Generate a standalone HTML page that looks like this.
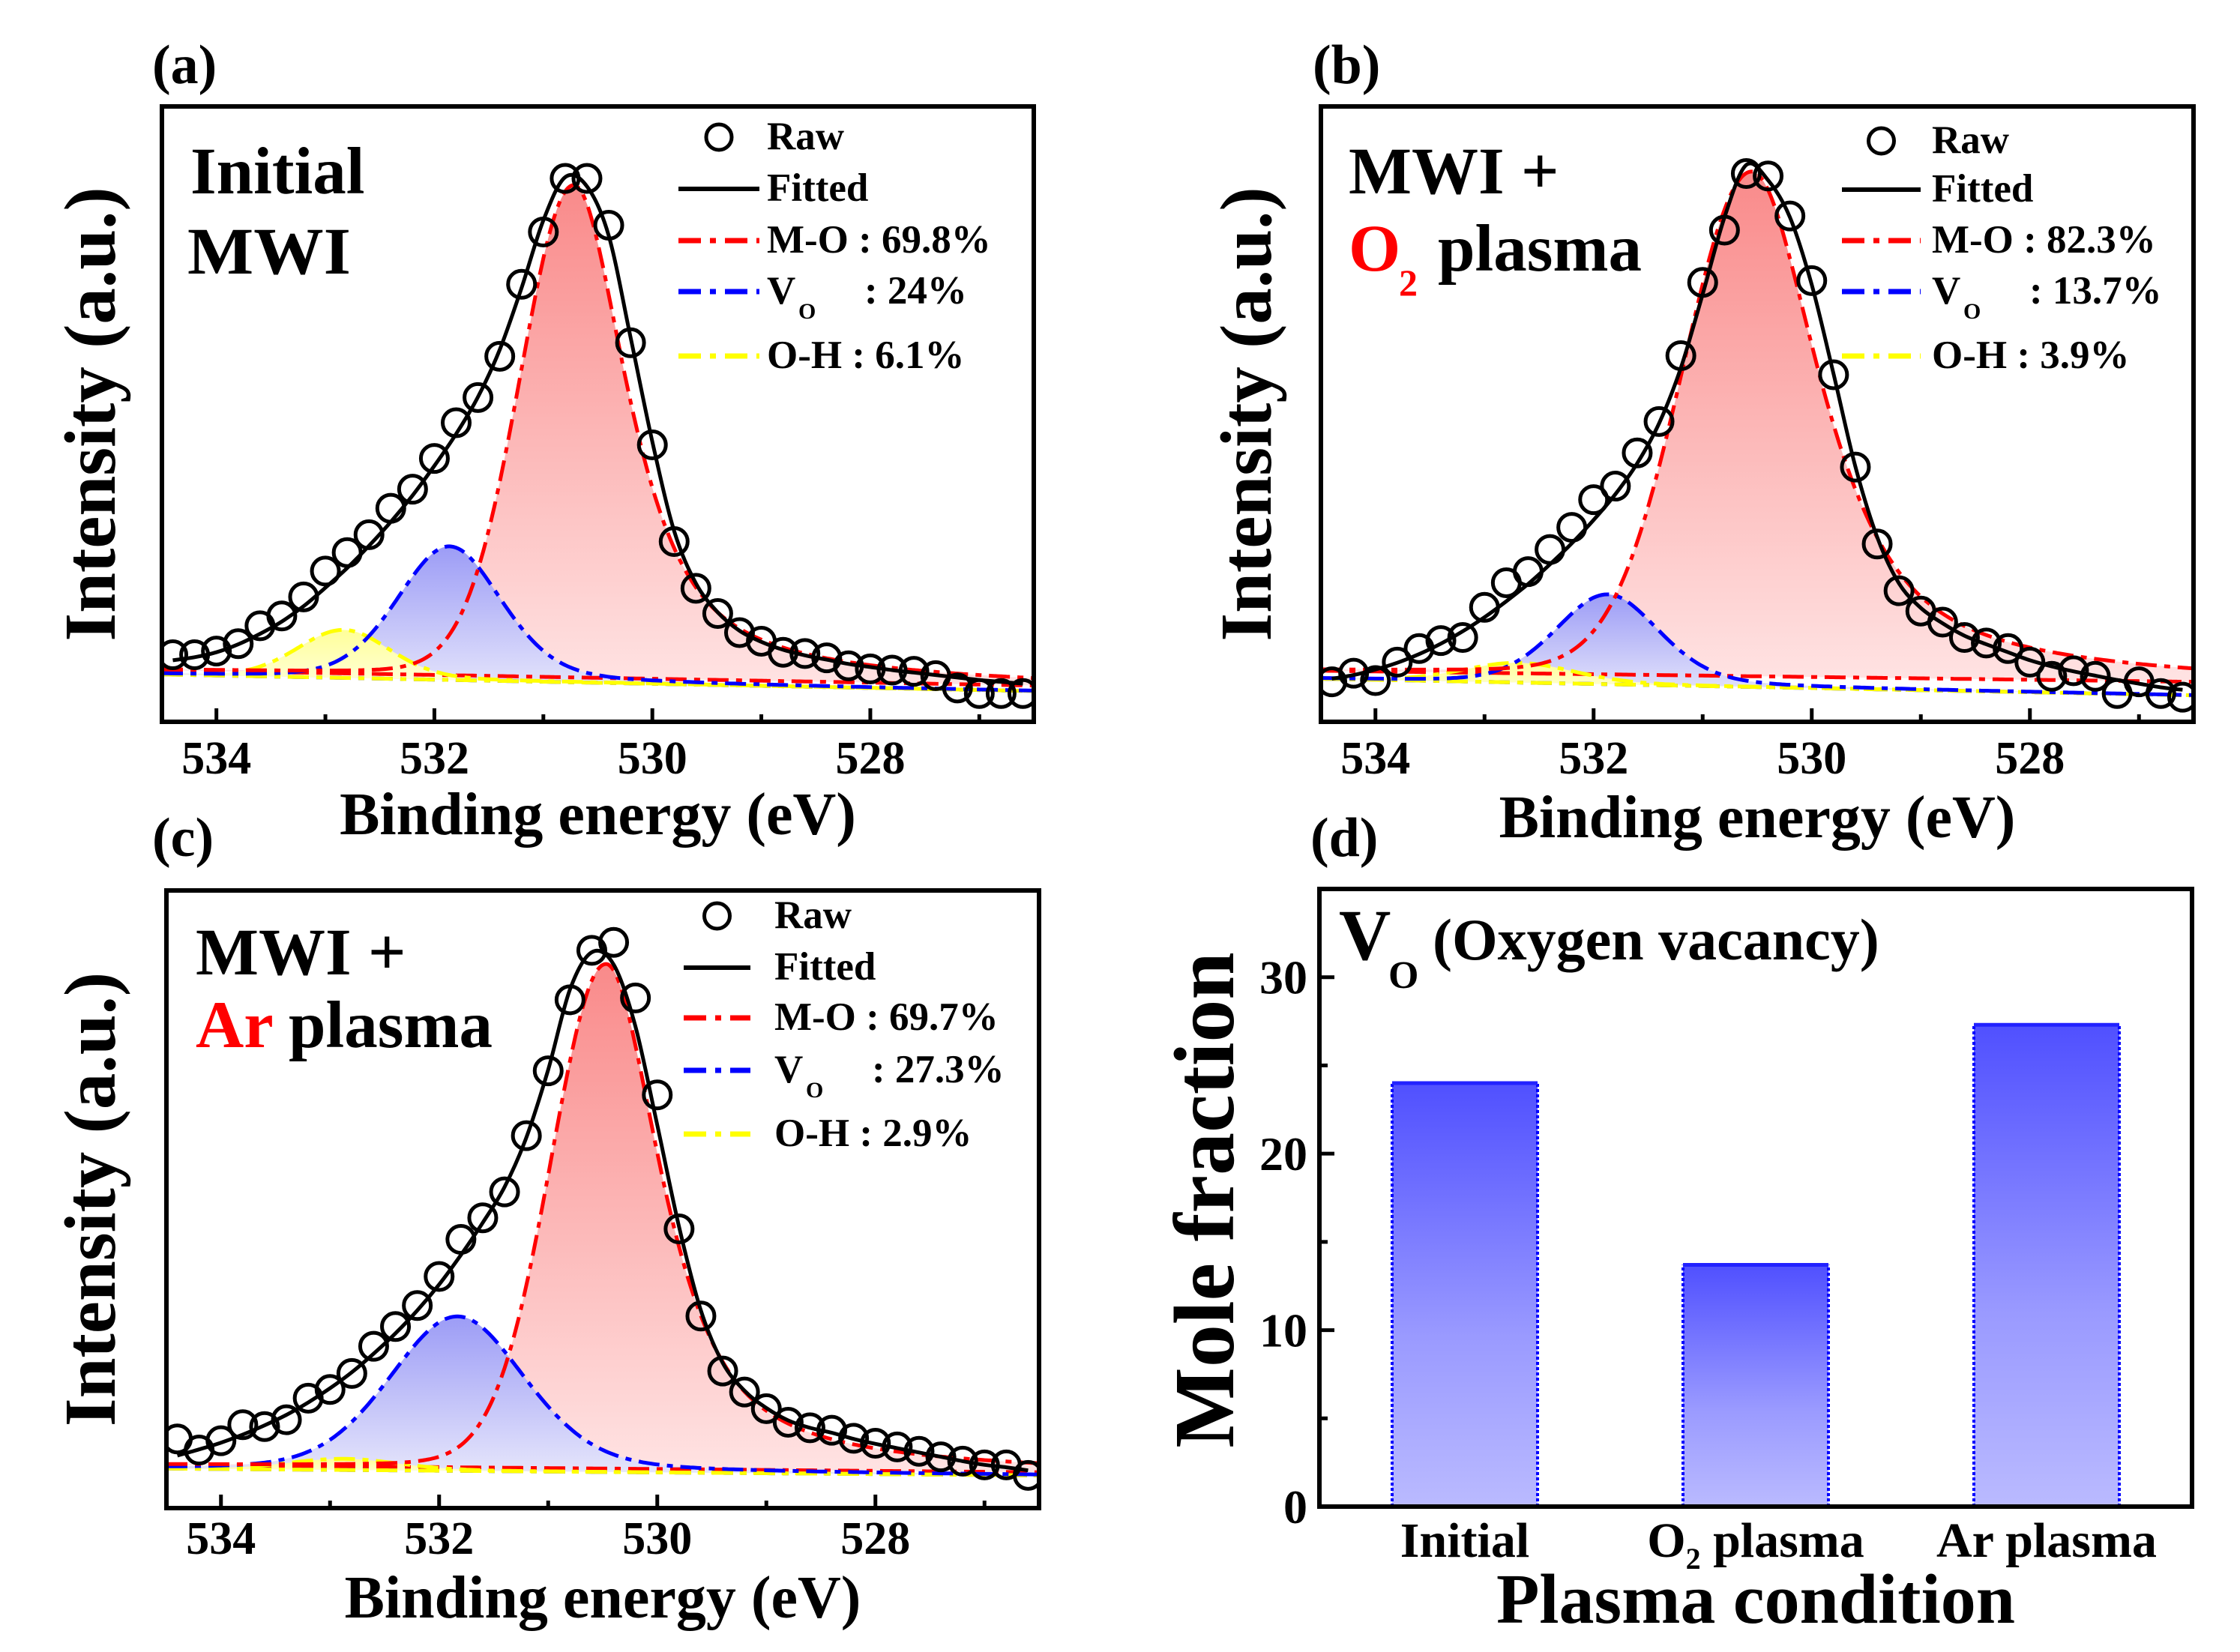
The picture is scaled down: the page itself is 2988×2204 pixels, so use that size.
<!DOCTYPE html>
<html><head><meta charset="utf-8">
<style>
html,body{margin:0;padding:0;background:#fff;}
svg{display:block;}
text{font-family:"Liberation Serif","Times New Roman",serif;font-weight:bold;fill:#000;}
</style></head>
<body>
<svg id="fig" xmlns="http://www.w3.org/2000/svg" width="2988" height="2204" viewBox="0 0 2988 2204">
<defs>
<linearGradient id="gRed" x1="0" y1="0" x2="0" y2="1"><stop offset="0" stop-color="#f98a8a"/><stop offset="1" stop-color="#ffe3e3"/></linearGradient>
<linearGradient id="gBlue" x1="0" y1="0" x2="0" y2="1"><stop offset="0" stop-color="#9c9cf6"/><stop offset="1" stop-color="#e6e6fb"/></linearGradient>
<linearGradient id="gYel" x1="0" y1="0" x2="0" y2="1"><stop offset="0" stop-color="#ffff99"/><stop offset="1" stop-color="#ffffe0"/></linearGradient>
<linearGradient id="gBar" x1="0" y1="0" x2="0" y2="1"><stop offset="0" stop-color="#5050ff"/><stop offset="0.6" stop-color="#9a9aff"/><stop offset="1" stop-color="#babaff"/></linearGradient>
<clipPath id="clipA"><rect x="216" y="142" width="1163" height="821"/></clipPath>
<clipPath id="clipB"><rect x="1762" y="142" width="1164" height="821"/></clipPath>
<clipPath id="clipC"><rect x="222" y="1188" width="1164" height="824"/></clipPath>
</defs>

<text x="203" y="111" font-size="74">(a)</text>
<text x="1751" y="111" font-size="74">(b)</text>
<text x="203" y="1142" font-size="74">(c)</text>
<text x="1748" y="1142" font-size="74">(d)</text>

<text x="254" y="258" font-size="89">Initial</text>
<text x="250" y="365" font-size="89" textLength="218" lengthAdjust="spacingAndGlyphs">MWI</text>
<text x="1799" y="258" font-size="89">MWI +</text>
<text x="1799" y="361" font-size="89" style="fill:#ff0000">O</text>
<text x="1866" y="394" font-size="50" style="fill:#ff0000">2</text>
<text x="1918" y="361" font-size="89">plasma</text>
<text x="261" y="1300" font-size="89">MWI +</text>
<text x="261" y="1397" font-size="89" style="fill:#ff0000">Ar</text>
<text x="385" y="1397" font-size="89">plasma</text>

<g id="plots"></g>
</svg>
<script>
// ===== Shared data =====
const energies = [534.4,534.2,534.0,533.8,533.6,533.4,533.2,533.0,532.8,532.6,532.4,532.2,532.0,531.8,531.6,531.4,531.2,531.0,530.8,530.6,530.4,530.2,530.0,529.8,529.6,529.4,529.2,529.0,528.8,528.6,528.4,528.2,528.0,527.8,527.6,527.4,527.2,527.0,526.8,526.6];
const xTickValues = [534,532,530,528];
const xMinorValues = [533,531,529,527];
const componentNames = ["M-O","V_O","O-H"];

// Panel a
const aRaw = [10.9,10.9,11.5,12.7,15.6,17.2,20.3,24.5,27.5,30.4,34.7,37.8,42.8,48.6,52.7,59.4,71.1,79.6,88.3,88.3,80.7,61.6,45.0,29.3,21.7,17.6,14.5,13.1,11.3,11.1,10.4,9.1,8.6,8.4,8.2,7.5,5.5,4.6,4.6,4.6];
const aFit = [10.0,10.5,11.3,12.6,14.3,16.3,18.8,21.8,25.0,28.6,32.5,36.8,41.6,46.8,52.8,60.5,70.5,81.5,88.5,87.0,79.0,62.5,45.5,31.0,22.5,17.8,14.8,13.0,11.7,10.8,10.1,9.4,8.9,8.4,8.0,7.6,7.2,6.8,6.5,6.2];
const aCenters = [530.72,531.86,532.83];
const aHeights = [80,21.7,7.8];
const aWidths = [1.17,1.13,1.0];
const aBaseRed = [8.4,5.9];
const aBaseOther = [7.7,5.0];
const aPercents = ["69.8%","24%","6.1%"];

// Panel b
const bRaw = [6.5,7.9,6.7,9.7,11.9,13.2,13.7,18.6,22.6,24.4,28.0,31.6,36.1,38.3,43.7,48.8,59.5,71.4,79.9,89.1,88.7,82.2,71.7,56.4,41.4,28.9,21.3,18.0,16.2,13.7,12.8,11.9,9.7,7.4,8.3,7.4,4.6,6.5,4.6,4.0];
const bFit = [7.0,7.6,8.5,9.6,11.0,12.7,14.7,17.0,19.6,22.4,25.6,29.0,32.8,37.0,42.0,48.5,57.5,69.5,82.0,90.5,88.0,82.0,71.0,56.5,41.5,30.0,22.5,18.5,16.0,14.0,12.6,11.3,10.0,9.0,8.2,7.5,6.8,6.2,5.6,5.2];
const bCenters = [530.55,531.87,532.68];
const bHeights = [82,14.6,3.2];
const bWidths = [1.5,1.12,1.2];
const bBaseRed = [8.3,6.5];
const bBaseOther = [7.0,4.3];
const bPercents = ["82.3%","13.7%","3.9%"];

// Panel c
const cRaw = [11.2,9.4,10.9,13.5,13.2,14.3,17.8,19.2,21.8,26.2,29.4,32.8,37.5,43.5,47.0,51.2,60.3,70.8,82.3,90.3,91.6,82.6,66.9,45.2,31.1,22.2,18.8,16.1,13.9,13.0,12.6,11.3,10.5,9.9,9.2,8.3,7.6,7.0,7.0,5.3];
const cFit = [8.5,9.5,10.6,11.9,13.4,15.1,17.1,19.4,22.0,25.0,28.3,32.0,36.2,41.0,46.2,52.0,60.0,71.0,84.0,90.0,88.0,78.0,62.0,45.5,32.0,23.5,19.0,16.2,14.2,13.0,12.2,11.2,10.4,9.7,9.0,8.3,7.6,7.0,6.6,6.1];
const cCenters = [530.47,531.83,532.87];
const cHeights = [81.7,25,1.8];
const cWidths = [1.2,1.47,1.2];
const cBaseRed = [7.0,5.8];
const cBaseOther = [6.4,5.3];
const cPercents = ["69.7%","27.3%","2.9%"];

// Panel d (bar chart)
const barCategories = ["Initial","O2 plasma","Ar plasma"];
const barValues = [24.0,13.7,27.3];
const yTickValues = [0,10,20,30];
const yMinorValues = [5,15,25];

const NS = "http://www.w3.org/2000/svg";
const root = document.getElementById("plots");
function mk(tag, attrs, parent){
  const e = document.createElementNS(NS, tag);
  for (const k in attrs) e.setAttribute(k, attrs[k]);
  (parent||root).appendChild(e);
  return e;
}
function smoothPath(pts){
  let d = "M"+pts[0][0].toFixed(1)+","+pts[0][1].toFixed(1);
  for (let i=0;i<pts.length-1;i++){
    const p0=pts[Math.max(0,i-1)], p1=pts[i], p2=pts[i+1], p3=pts[Math.min(pts.length-1,i+2)];
    const c1x=p1[0]+(p2[0]-p0[0])/6, c1y=p1[1]+(p2[1]-p0[1])/6;
    const c2x=p2[0]-(p3[0]-p1[0])/6, c2y=p2[1]-(p3[1]-p1[1])/6;
    d+=" C"+c1x.toFixed(1)+","+c1y.toFixed(1)+" "+c2x.toFixed(1)+","+c2y.toFixed(1)+" "+p2[0].toFixed(1)+","+p2[1].toFixed(1);
  }
  return d;
}
// Lorentzian mixing: [high-BE side, low-BE side]
const ETA_HI = [0.08,0.2,0.1];
const ETA_LO = [0.8,0.3,0.2];
function pv(x,c,h,w,k){
  const u=(x-c)/w;
  const eta = x>c ? ETA_HI[k] : ETA_LO[k];
  return h*(eta/(1+4*u*u)+(1-eta)*Math.exp(-4*Math.LN2*u*u));
}

function xpsPanel(cfg){
  const {id,L,R,T,B,raw,fit,centers,heights,widths,baseRed,baseOther,clip,leg,percents,ylabX,xlabY,tickY} = cfg;
  const eMax=534.5, eMin=526.5;
  const sx = e => L + (eMax-e)/(eMax-eMin)*(R-L);
  const sy = v => B - v/100*(B-T);
  const g = mk("g",{"clip-path":"url(#"+clip+")"});
  
  
  const colors = ["#ff0000","#0000ff","#ffff00"];
  const fills = ["url(#gRed)","url(#gBlue)","url(#gYel)"];
  const N=161;
  const comps=[];
  for (let k=0;k<3;k++){
    const bl = k===0?baseRed:baseOther;
    const top=[], bot=[];
    for (let i=0;i<N;i++){
      const e = eMax - i*(eMax-eMin)/(N-1);
      const t = (eMax-e)/(eMax-eMin);
      const b = bl[0] + (bl[1]-bl[0])*t;
      top.push([sx(e), sy(b+pv(e,centers[k],heights[k],widths[k],k))]);
      bot.push([sx(e), sy(b)]);
    }
    comps.push({top,bot});
    let d = smoothPath(top);
    for (let i=N-1;i>=0;i--) d += " L"+bot[i][0].toFixed(1)+","+bot[i][1].toFixed(1);
    const f = mk("path",{d:d+" Z",fill:fills[k],stroke:"none"},g);
    
    
  }
  for (let k=0;k<3;k++){
    const bl = mk("path",{d:smoothPath(comps[k].bot),fill:"none",stroke:colors[k],"stroke-width":5,"stroke-dasharray":"28 10 8 10"},g);
    
    
  }
  for (let k=2;k>=0;k--){
    const p = mk("path",{d:smoothPath(comps[k].top),fill:"none",stroke:colors[k],"stroke-width":5,"stroke-dasharray":"28 10 8 10"},g);
    
    
  }
  const fp = energies.map((e,i)=>[sx(e),sy(fit[i])]);
  const fl = mk("path",{d:smoothPath(fp),fill:"none",stroke:"#000","stroke-width":5},g);
  
  
  energies.forEach((e,i)=>{
    const c = mk("circle",{cx:sx(e),cy:sy(raw[i]),r:18,fill:"none",stroke:"#000","stroke-width":5},g);
    
    
  });
  const fr = mk("rect",{x:L,y:T,width:R-L,height:B-T,fill:"none",stroke:"#000","stroke-width":6});
  
  
  xTickValues.forEach(v=>{
    const t = mk("line",{x1:sx(v),x2:sx(v),y1:B,y2:B-18,stroke:"#000","stroke-width":5});
    
    
    const tl = mk("text",{x:sx(v),y:tickY,"font-size":62,"text-anchor":"middle"});
    tl.textContent = String(v);
    
    
  });
  xMinorValues.forEach(v=>{
    const t = mk("line",{x1:sx(v),x2:sx(v),y1:B,y2:B-10,stroke:"#000","stroke-width":5});
    
    
  });
  const xl = mk("text",{x:(L+R)/2,y:xlabY,"font-size":80,"text-anchor":"middle"});
  xl.textContent = "Binding energy (eV)";
  
  
  const yl = mk("text",{x:0,y:0,"font-size":97,"text-anchor":"middle",transform:"translate("+ylabX+","+((T+B)/2)+") rotate(-90)"});
  yl.textContent = "Intensity (a.u.)";
  
  
  const lx0=leg.x0, lx1=leg.x1, tx=leg.tx, rows=leg.rows;
  const lg = mk("g",{});
  
  
  const lc = mk("circle",{cx:(lx0+lx1)/2,cy:rows[0],r:17,fill:"none",stroke:"#000","stroke-width":5},lg);
  
  
  const t0 = mk("text",{x:tx,y:rows[0]+16,"font-size":53},lg); t0.textContent="Raw";
  
  
  const ll = mk("line",{x1:lx0,x2:lx1,y1:rows[1],y2:rows[1],stroke:"#000","stroke-width":6},lg);
  
  
  const t1 = mk("text",{x:tx,y:rows[1]+16,"font-size":53},lg); t1.textContent="Fitted";
  
  
  for (let k=0;k<3;k++){
    const y=rows[2+k];
    const s = mk("line",{x1:lx0,x2:lx1,y1:y,y2:y,stroke:colors[k],"stroke-width":7,"stroke-dasharray":"30 12 8 12","stroke-linecap":"butt"},lg);
    
    
    const t = mk("text",{x:tx,y:y+16,"font-size":53},lg);
    
    
    if (k===1){
      t.textContent="V";
      const sub = mk("text",{x:tx+42,y:y+36,"font-size":30,"font-weight":"normal"},lg); sub.textContent="O";
      
      
      const t2 = mk("text",{x:tx+130,y:y+16,"font-size":53},lg); t2.textContent=": "+percents[k];
      
      
    } else {
      t.textContent = componentNames[k]+" : "+percents[k];
    }
  }
}

xpsPanel({id:"panel-a",L:216,R:1379,T:142,B:963,raw:aRaw,fit:aFit,centers:aCenters,heights:aHeights,widths:aWidths,baseRed:aBaseRed,baseOther:aBaseOther,clip:"clipA",percents:aPercents,
  leg:{x0:905,x1:1013,tx:1023,rows:[183,252,321,389,475]},ylabX:153,xlabY:1113,tickY:1032});
xpsPanel({id:"panel-b",L:1762,R:2926,T:142,B:963,raw:bRaw,fit:bFit,centers:bCenters,heights:bHeights,widths:bWidths,baseRed:bBaseRed,baseOther:bBaseOther,clip:"clipB",percents:bPercents,
  leg:{x0:2457,x1:2562,tx:2577,rows:[188,253,321,389,475]},ylabX:1695,xlabY:1117,tickY:1032});
xpsPanel({id:"panel-c",L:222,R:1386,T:1188,B:2012,raw:cRaw,fit:cFit,centers:cCenters,heights:cHeights,widths:cWidths,baseRed:cBaseRed,baseOther:cBaseOther,clip:"clipC",percents:cPercents,
  leg:{x0:912,x1:1001,tx:1033,rows:[1222,1291,1358,1428,1513]},ylabX:153,xlabY:2158,tickY:2073});

// ===== Panel d bar chart =====
(function(){
  const L=1760,R=2924,T=1186,B=2010;
  const yMax=35, xMin=0.5, xMax=3.5;
  const sx = v => L + (v-xMin)/(xMax-xMin)*(R-L);
  const sy = v => B - v/yMax*(B-T);
  const bw = 0.5*(R-L)/(xMax-xMin);
  barValues.forEach((v,i)=>{
    const cx = sx(i+1);
    const r = mk("rect",{x:cx-bw/2,y:sy(v),width:bw,height:B-sy(v),fill:"url(#gBar)",stroke:"none"});
    
    
    const sides = mk("path",{d:"M"+(cx-bw/2)+","+B+" V"+sy(v)+" M"+(cx+bw/2)+","+B+" V"+sy(v),fill:"none",stroke:"#0000ff","stroke-width":4,"stroke-dasharray":"4 3"});
    
    
    const top = mk("line",{x1:cx-bw/2,x2:cx+bw/2,y1:sy(v),y2:sy(v),stroke:"#2222ff","stroke-width":5});
    
    
    const lab = mk("text",{x:cx,y:2077,"font-size":66,"text-anchor":"middle"});
    
    
    if (barCategories[i]==="O2 plasma"){
      const a = mk("tspan",{},lab); a.textContent="O";
      const b = mk("tspan",{"font-size":40,dy:16},lab); b.textContent="2";
      const c = mk("tspan",{dy:-16},lab); c.textContent=" plasma";
    } else lab.textContent = barCategories[i];
  });
  const fr = mk("rect",{x:L,y:T,width:R-L,height:B-T,fill:"none",stroke:"#000","stroke-width":6});
  
  
  yTickValues.forEach(v=>{
    const t = mk("line",{x1:L,x2:L+20,y1:sy(v),y2:sy(v),stroke:"#000","stroke-width":5});
    
    
    const tl = mk("text",{x:L-16,y:sy(v)+22,"font-size":64,"text-anchor":"end"});
    tl.textContent=String(v);
    
    
  });
  yMinorValues.forEach(v=>{
    const t = mk("line",{x1:L,x2:L+11,y1:sy(v),y2:sy(v),stroke:"#000","stroke-width":5});
    
    
  });
  const v1 = mk("text",{x:1786,y:1280,"font-size":96}); v1.textContent="V";
  
  
  const v2 = mk("text",{x:1852,y:1318,"font-size":52}); v2.textContent="O";
  
  
  const v3 = mk("text",{x:1911,y:1280,"font-size":78}); v3.textContent="(Oxygen vacancy)";
  
  
  const yl = mk("text",{x:0,y:0,"font-size":114,"text-anchor":"middle",transform:"translate(1645,1601) rotate(-90)"});
  yl.textContent="Mole fraction";
  
  
  const xl = mk("text",{x:(L+R)/2,y:2165,"font-size":94,"text-anchor":"middle"});
  xl.textContent="Plasma condition";
  
  
})();
</script>
</body></html>
